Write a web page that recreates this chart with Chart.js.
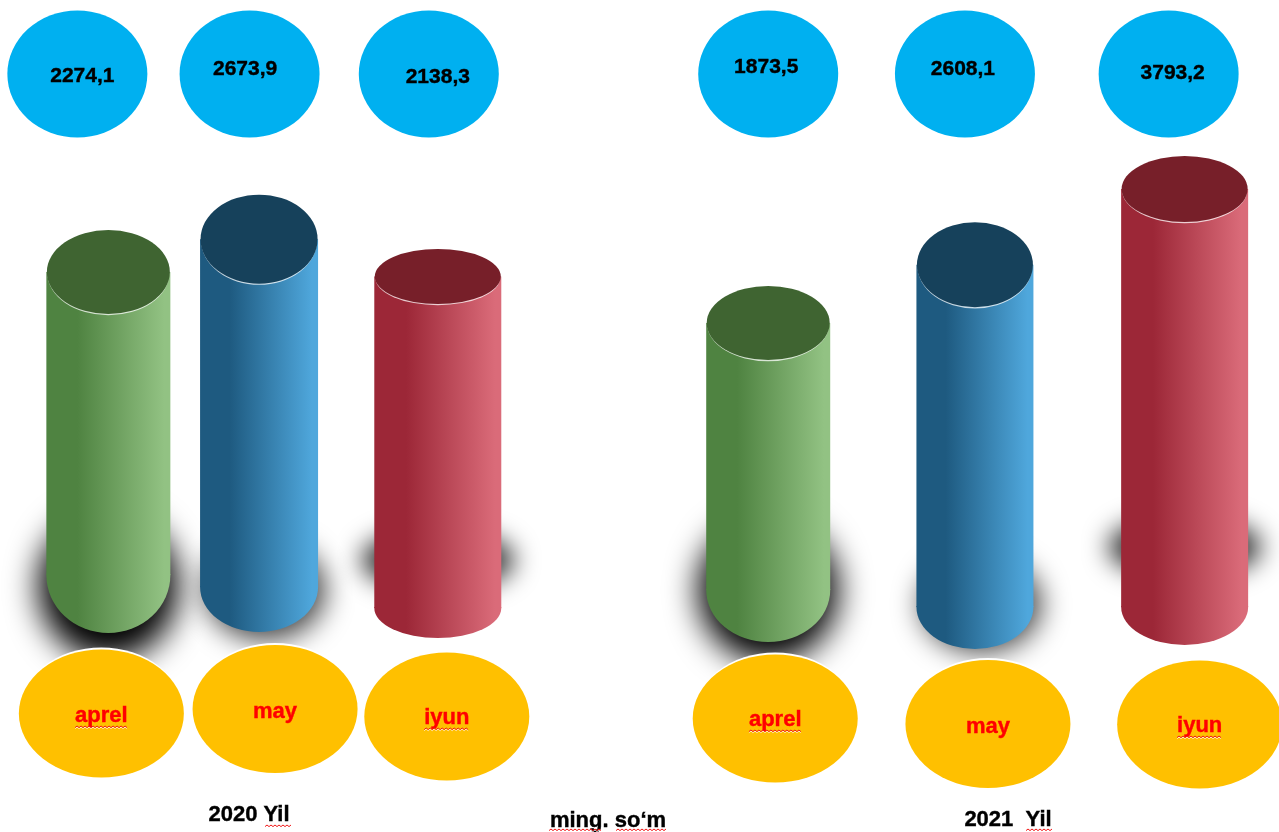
<!DOCTYPE html>
<html>
<head>
<meta charset="utf-8">
<style>
    html, body { margin: 0; padding: 0; background: #fff; overflow: hidden; }
    canvas { display: block; }
</style>
<script src="https://cdn.jsdelivr.net/npm/chart.js@4"></script>
</head>
<body>
<canvas id="cylinderChart" width="1279" height="832"></canvas>
<script>
const months = ['aprel', 'may', 'iyun'];
const values2020 = [2274.1, 2673.9, 2138.3];
const values2021 = [1873.5, 2608.1, 3793.2];
const valueLabels2020 = ['2274,1', '2673,9', '2138,3'];
const valueLabels2021 = ['1873,5', '2608,1', '3793,2'];
const yearLabels = ['2020 Yil', '2021  Yil'];
const unitLabel = 'ming. so‘m';

const COLORS = {
    green: {dark: '#4f8341', light: '#92c283', top: '#3f6431'},
    blue: {dark: '#1e5a80', light: '#4fa7dc', top: '#16415b'},
    red: {dark: '#9c2737', light: '#da6b79', top: '#771f29'},
    bubble: '#00b0f0',
    label: '#ffc000'
};

// looks of each slot, the empty slot is the gap between the two years
const LOOK = [
    {c: COLORS.green, dx: 17, w: 124, ry: 42, end: 575, endRy: 58, lift: -23, shadow: [0, 586, 70, 74, 16, 1], bubble: [-31, 74], val: [-26, 76], pill: [-7, 713.5], txt: [-7, 716], wavy: true},
    {c: COLORS.blue, dx: -15, w: 118, ry: 44.5, end: 587, endRy: 45, lift: -28, shadow: [6, 590, 60, 50, 14, 0.75], bubble: [-9.5, 74], val: [-14, 69], pill: [16, 709], txt: [16, 712], wavy: false},
    {c: COLORS.red, dx: -19, w: 127, ry: 27.5, end: 608, endRy: 30, lift: -28, shadow: [0, 560, 76, 30, 13, 0.85], bubble: [-9, 74], val: [0, 77], pill: [9, 716.5], txt: [9, 718], wavy: true},
    null,
    {c: COLORS.green, dx: -54, w: 124, ry: 37, end: 590, endRy: 52, lift: 0, shadow: [0, 590, 70, 72, 16, 1], bubble: [0, 74], val: [-2, 67], pill: [7, 718.5], txt: [7, 720], wavy: true},
    {c: COLORS.blue, dx: -30, w: 117, ry: 42.5, end: 607, endRy: 42, lift: -7, shadow: [6, 604, 60, 48, 14, 0.75], bubble: [-10, 74], val: [-12, 69], pill: [13, 724], txt: [13, 727], wavy: false},
    {c: COLORS.red, dx: -3, w: 127, ry: 33, end: 607, endRy: 38, lift: 0, shadow: [0, 547, 76, 30, 13, 0.85], bubble: [-16, 74], val: [-12, 73], pill: [15, 724.5], txt: [15, 726], wavy: true}
];

const slotLabels = [...months, '', ...months];
const slotValues = [...values2020, null, ...values2021];
const slotTexts = [...valueLabels2020, '', ...valueLabels2021];

function barFill(chart, index) {
    const look = LOOK[index];
    if (!look) return 'rgba(0,0,0,0)';
    const cx = chart.scales.x.getPixelForValue(index) + look.dx;
    // the scale has no size yet on the very first pass
    if (!Number.isFinite(cx)) return look.c.dark;
    const g = chart.ctx.createLinearGradient(cx - look.w / 2, 0, cx + look.w / 2, 0);
    g.addColorStop(0, look.c.dark);
    g.addColorStop(0.25, look.c.dark);
    g.addColorStop(0.95, look.c.light);
    g.addColorStop(1, look.c.light);
    return g;
}

function squiggle(ctx, x0, x1, y) {
    [['rgba(255,255,255,0.8)', 1], ['#f01818', 0]].forEach(([color, down]) => {
        ctx.beginPath();
        ctx.strokeStyle = color;
        ctx.lineWidth = 1;
        for (let x = x0, up = false; x <= x1; x += 2, up = !up) {
            ctx.lineTo(x, y + down + (up ? 0 : 1.6));
        }
        ctx.stroke();
    });
}

function boldText(ctx, text, x, y, size, color) {
    ctx.font = 'bold ' + size + 'px "Liberation Sans", Arial, sans-serif';
    ctx.textAlign = 'center';
    ctx.textBaseline = 'middle';
    ctx.fillStyle = color;
    ctx.strokeStyle = color;
    ctx.lineWidth = 0.4;
    ctx.fillText(text, x, y);
    ctx.strokeText(text, x, y);
}

function fillEllipse(ctx, color, x, y, rx, ry) {
    ctx.fillStyle = color;
    ctx.beginPath();
    ctx.ellipse(x, y, rx, ry, 0, 0, Math.PI * 2);
    ctx.fill();
}

const cylinderPlugin = {
    id: 'cylinders',
    // move the native bars to the places of the drawing
    afterDatasetsUpdate(chart) {
        chart.getDatasetMeta(0).data.forEach((el, i) => {
            const look = LOOK[i];
            if (!look) return;
            el.x += look.dx;
            el.y += look.lift;
            el.width = look.w;
            el.base = look.end;
            el.height = el.base - el.y;
        });
    },
    beforeDatasetsDraw(chart) {
        const ctx = chart.ctx;
        chart.getDatasetMeta(0).data.forEach((el, i) => {
            const look = LOOK[i];
            if (!look) return;
            const [dx, cy, rx, ry, blur, alpha] = look.shadow;
            ctx.save();
            ctx.filter = 'blur(' + blur + 'px)';
            ctx.globalAlpha = alpha;
            fillEllipse(ctx, '#000', el.x + dx, cy, rx, ry);
            ctx.restore();
        });
    },
    afterDatasetsDraw(chart) {
        const ctx = chart.ctx;
        chart.getDatasetMeta(0).data.forEach((el, i) => {
            const look = LOOK[i];
            if (!look) return;
            const rx = look.w / 2;
            ctx.save();

            // round foot of the cylinder
            ctx.fillStyle = barFill(chart, i);
            ctx.beginPath();
            ctx.ellipse(el.x, look.end, rx, look.endRy, 0, 0, Math.PI);
            ctx.lineTo(el.x - rx, look.end - 1);
            ctx.lineTo(el.x + rx, look.end - 1);
            ctx.closePath();
            ctx.fill();

            // top cap, the light rim peeks out below it
            fillEllipse(ctx, 'rgba(255,255,255,0.75)', el.x, el.y + 1.2, rx - 1, look.ry);
            fillEllipse(ctx, look.c.top, el.x, el.y, rx - 0.5, look.ry);

            // value bubble
            fillEllipse(ctx, COLORS.bubble, el.x + look.bubble[0], look.bubble[1], 70, 63.5);
            boldText(ctx, slotTexts[i], el.x + look.val[0], look.val[1], 21, '#000');

            // month bubble, white rim peeks out on top
            fillEllipse(ctx, '#fff', el.x + look.pill[0], look.pill[1] - 2, 81.5, 64);
            fillEllipse(ctx, COLORS.label, el.x + look.pill[0], look.pill[1], 82.5, 64);
            boldText(ctx, slotLabels[i], el.x + look.txt[0], look.txt[1], 22, '#ff0000');
            if (look.wavy) {
                const half = ctx.measureText(slotLabels[i]).width / 2;
                squiggle(ctx, el.x + look.txt[0] - half, el.x + look.txt[0] + half, look.txt[1] + 10);
            }
            ctx.restore();
        });

        // year captions under the groups
        ctx.save();
        boldText(ctx, yearLabels[0], 249, 815, 22, '#000');
        boldText(ctx, unitLabel, 608, 821, 22, '#000');
        boldText(ctx, yearLabels[1], 1008, 820, 22, '#000');
        squiggle(ctx, 265, 291, 825);
        squiggle(ctx, 549, 602, 829);
        squiggle(ctx, 616, 667, 829);
        squiggle(ctx, 1026, 1052, 829);
        ctx.restore();
    }
};

new Chart(document.getElementById('cylinderChart').getContext('2d'), {
    type: 'bar',
    data: {
        labels: slotLabels,
        datasets: [{
            label: 'ming. so‘m',
            data: slotValues,
            borderWidth: 0,
            backgroundColor: c => barFill(c.chart, c.dataIndex)
        }]
    },
    options: {
        responsive: false,
        animation: false,
        layout: {padding: 0},
        scales: {
            x: {display: false},
            y: {display: false, min: -5419, max: 6501}
        },
        plugins: {
            legend: {display: false},
            title: {display: false},
            tooltip: {enabled: false}
        }
    },
    plugins: [cylinderPlugin]
});
</script>
</body>
</html>
